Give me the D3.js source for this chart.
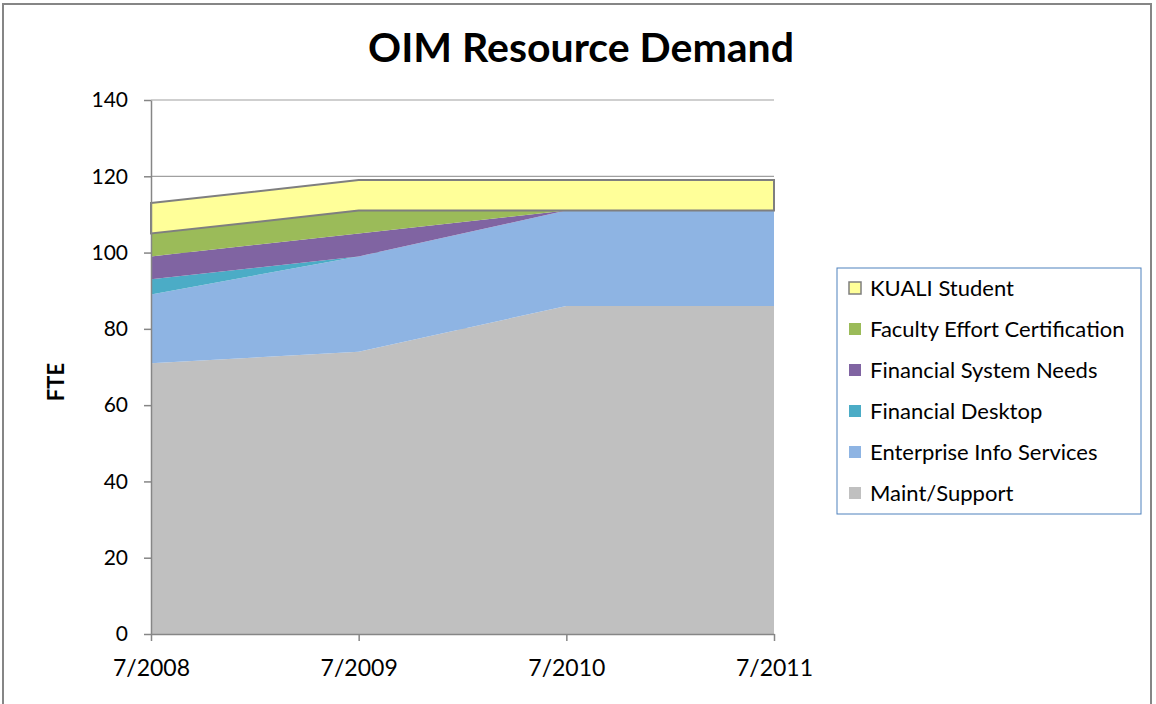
<!DOCTYPE html>
<html>
<head>
<meta charset="utf-8">
<script src="https://cdn.jsdelivr.net/npm/d3@7"></script>
<style>
  body { margin: 0; background: #fff; }
  text { font-family: Lato, "Liberation Sans", sans-serif; }
</style>
</head>
<body>
<svg id="chart" width="1156" height="704"></svg>
<script>
// values (FTE)
const periods = ['7/2008', '7/2009', '7/2010', '7/2011'];
const seriesNames = ['Maint/Support', 'Enterprise Info Services', 'Financial Desktop',
  'Financial System Needs', 'Faculty Effort Certification', 'KUALI Student'];
const maintSupport = [71, 74, 86, 86];
const enterpriseInfo = [18, 25, 25, 25];
const financialDesktop = [4, 0, 0, 0];
const financialSystem = [6, 6, 0, 0];
const facultyEffort = [6, 6, 0, 0];
const kualiStudent = [8, 8, 8, 8];
const yTicks = [0, 20, 40, 60, 80, 100, 120, 140];

const colors = ['#c0c0c0', '#8eb4e3', '#4bacc6', '#8064a2', '#9bbb59', '#ffff99'];

const allSeries = [maintSupport, enterpriseInfo, financialDesktop, financialSystem, facultyEffort, kualiStudent];
const rows = periods.map((p, i) => {
  let r = { period: p };
  seriesNames.forEach((n, j) => { r[n] = allSeries[j][i]; });
  return r;
});

let svg = d3.select('#chart');

// outer frame
svg.append('rect')
  .attr('x', 3).attr('y', 4)
  .attr('width', 1148).attr('height', 720)
  .attr('fill', 'none')
  .attr('stroke', '#868686')
  .attr('stroke-width', 2);

let x = d3.scalePoint().domain(periods).range([151, 774]);
let y = d3.scaleLinear().domain([0, 140]).range([634, 100]);

// gridlines behind the areas
svg.append('g')
  .selectAll('line')
  .data(yTicks.filter(d => d > 0))
  .join('line')
  .attr('x1', 151).attr('x2', 774)
  .attr('y1', d => y(d)).attr('y2', d => y(d))
  .attr('stroke', '#a0a0a0')
  .attr('stroke-width', 1.2);

let stacked = d3.stack().keys(seriesNames)(rows);

let area = d3.area()
  .x(d => x(d.data.period))
  .y0(d => y(d[0]))
  .y1(d => y(d[1]));

svg.append('g')
  .selectAll('path')
  .data(stacked)
  .join('path')
  .attr('d', area)
  .attr('fill', (d, i) => colors[i])
  .attr('stroke', (d, i) => i === 5 ? '#7f7f7f' : 'none')
  .attr('stroke-width', 2);

// axes
let yAxis = svg.append('g')
  .attr('transform', 'translate(151,0)')
  .call(d3.axisLeft(y).tickValues(yTicks).tickSize(7).tickPadding(16).tickSizeOuter(0));
let xAxis = svg.append('g')
  .attr('transform', 'translate(0,634)')
  .call(d3.axisBottom(x).tickSize(7).tickPadding(19).tickSizeOuter(0));

[yAxis, xAxis].forEach(a => {
  a.select('.domain').attr('stroke', '#868686').attr('stroke-width', 1.5);
  a.selectAll('.tick line').attr('stroke', '#868686').attr('stroke-width', 1.5);
  a.selectAll('.tick text').attr('fill', '#000').style('font-size', '21px');
});
xAxis.selectAll('.tick text').style('font-size', '23px');

// title
svg.append('text')
  .attr('x', 581).attr('y', 62)
  .attr('text-anchor', 'middle')
  .style('font-size', '41px')
  .style('font-weight', 'bold')
  .text('OIM Resource Demand');

svg.append('text')
  .attr('transform', 'translate(64,382) rotate(-90)')
  .attr('text-anchor', 'middle')
  .style('font-size', '22px')
  .style('font-weight', 'bold')
  .text('FTE');

// legend
let legend = svg.append('g');
legend.append('rect')
  .attr('x', 837).attr('y', 268)
  .attr('width', 304).attr('height', 246)
  .attr('fill', '#fff')
  .attr('stroke', '#4f81bd')
  .attr('stroke-width', 1);

let items = legend.selectAll('g.item')
  .data(seriesNames.slice().reverse())
  .join('g')
  .attr('class', 'item')
  .attr('transform', (d, i) => 'translate(849,' + (288 + i * 41) + ')');

items.append('rect')
  .attr('x', 0).attr('y', -6)
  .attr('width', 12).attr('height', 12)
  .attr('fill', d => colors[seriesNames.indexOf(d)])
  .attr('stroke', d => d === 'KUALI Student' ? '#7f7f7f' : 'none')
  .attr('stroke-width', 1.5);

items.append('text')
  .attr('x', 21).attr('y', 8)
  .style('font-size', '22px')
  .text(d => d);
</script>
</body>
</html>
